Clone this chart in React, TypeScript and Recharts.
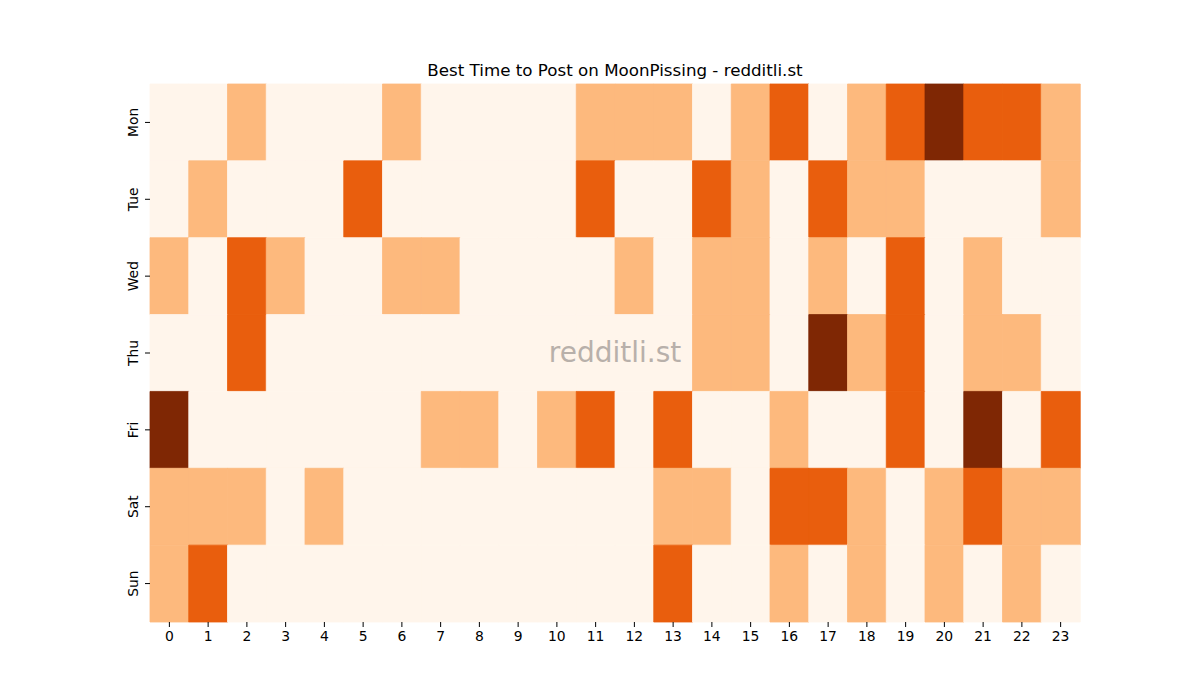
import React from 'react';
import { BarChart, Bar, XAxis, YAxis, Cell } from 'recharts';

const hours = [0,1,2,3,4,5,6,7,8,9,10,11,12,13,14,15,16,17,18,19,20,21,22,23];
const days = ['Mon', 'Tue', 'Wed', 'Thu', 'Fri', 'Sat', 'Sun'];

const mon = [0,0,1,0,0,0,1,0,0,0,0,1,1,1,0,1,2,0,1,2,3,2,2,1];
const tue = [0,1,0,0,0,2,0,0,0,0,0,2,0,0,2,1,0,2,1,1,0,0,0,1];
const wed = [1,0,2,1,0,0,1,1,0,0,0,0,1,0,1,1,0,1,0,2,0,1,0,0];
const thu = [0,0,2,0,0,0,0,0,0,0,0,0,0,0,1,1,0,3,1,2,0,1,1,0];
const fri = [3,0,0,0,0,0,0,1,1,0,1,2,0,2,0,0,1,0,0,2,0,3,0,2];
const sat = [1,1,1,0,1,0,0,0,0,0,0,0,0,1,1,0,2,2,1,0,1,2,1,1];
const sun = [1,2,0,0,0,0,0,0,0,0,0,0,0,2,0,0,1,0,1,0,1,0,1,0];

const levels = [mon, tue, wed, thu, fri, sat, sun];
const palette = ['#fff5eb', '#fdb97d', '#e95e0d', '#7f2704'];

const yTicks = days.map((_, i) => i + 0.5);

const data = hours.map((h) => {
  const row: Record<string, number> = { hour: h };
  days.forEach((d) => { row[d] = 1; });
  return row;
});

const FONT = 'DejaVu Sans, sans-serif';

const YTick = (props: any) => {
  const { x, y, payload } = props;
  const idx = Math.floor(payload.value);
  return (
    <text
      x={x - 3}
      y={y}
      transform={`rotate(-90, ${x - 3}, ${y})`}
      textAnchor="middle"
      fontFamily={FONT}
      fontSize={13.9}
      fill="#000"
    >
      {days[idx]}
    </text>
  );
};

export default function App() {
  return (
    <div style={{ position: 'absolute', left: 0, top: 0, width: 1200, height: 700, background: '#fff' }}>
      <BarChart
        width={1200}
        height={700}
        data={data}
        margin={{ top: 84, right: 120, bottom: 48, left: 110 }}
        barCategoryGap={0}
        barGap={0}
      >
        <XAxis
          dataKey="hour"
          type="category"
          axisLine={false}
          tickSize={5}
          tickMargin={4}
          height={30}
          tick={{ fontFamily: FONT, fontSize: 13.9, fill: '#000' }}
          tickLine={{ stroke: '#000', strokeWidth: 1 }}
          interval={0}
        />
        <YAxis
          type="number"
          domain={[0, 7]}
          reversed
          ticks={yTicks}
          width={40}
          axisLine={false}
          tickSize={5}
          tickMargin={4}
          tickLine={{ stroke: '#000', strokeWidth: 1 }}
          tick={<YTick />}
          interval={0}
        />
        {days.map((d, di) => (
          <Bar key={d} dataKey={d} stackId="a" isAnimationActive={false}>
            {hours.map((h, hi) => (
              <Cell
                key={h}
                fill={palette[levels[di][hi]]}
                stroke={palette[levels[di][hi]]}
                strokeWidth={0.8}
              />
            ))}
          </Bar>
        ))}
      </BarChart>
      <svg
        width={1200}
        height={700}
        style={{ position: 'absolute', left: 0, top: 0, pointerEvents: 'none' }}
      >
        <text x={615} y={76} textAnchor="middle" fontFamily={FONT} fontSize={16.7} fill="#000">
          Best Time to Post on MoonPissing - redditli.st
        </text>
        <text x={615} y={362} textAnchor="middle" fontFamily={FONT} fontSize={28} fill="#b8b0aa">
          redditli.st
        </text>
      </svg>
    </div>
  );
}
